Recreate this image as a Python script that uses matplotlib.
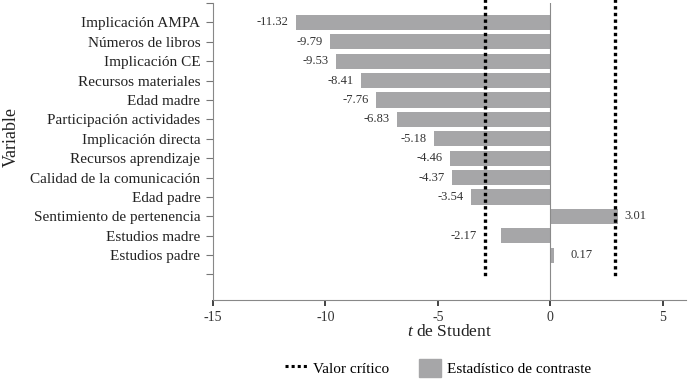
import matplotlib
matplotlib.use("Agg")
import matplotlib.pyplot as plt
import numpy as np
from matplotlib.patches import Patch
from matplotlib.lines import Line2D

categories = ["Implicación AMPA", "Números de libros", "Implicación CE", "Recursos materiales",
              "Edad madre", "Participación actividades", "Implicación directa", "Recursos aprendizaje",
              "Calidad de la comunicación", "Edad padre", "Sentimiento de pertenencia",
              "Estudios madre", "Estudios padre"]
values = [-11.32, -9.79, -9.53, -8.41, -7.76, -6.83, -5.18, -4.46, -4.37, -3.54, 3.01, -2.17, 0.17]
critical = [-2.9, 2.9]
xticks = [-15, -10, -5, 0, 5]

plt.rcParams['font.family'] = ['Liberation Serif', 'DejaVu Serif']
plt.rcParams['mathtext.fontset'] = 'custom'
plt.rcParams['mathtext.it'] = 'Liberation Serif:italic'
plt.rcParams['mathtext.rm'] = 'Liberation Serif'

fig = plt.figure(figsize=(6.89, 3.80), dpi=100)
ax = fig.add_axes([0.309, 0.21, 0.687, 0.782])

gray = '#a6a6a8'
ypos = np.arange(len(categories))
ax.barh(ypos, values, height=0.78, color=gray, zorder=2)
ax.axvline(0, color='#8a8a8a', lw=0.8, zorder=3)
for c in critical:
    ax.plot([c, c], [-1.2, 13.2], color='black', lw=2.4, linestyle=(0, (1, 1)),
            zorder=4, clip_on=False)

for y, v in zip(ypos, values):
    if v < 0:
        anchor = min(v, critical[0])
        off = -5 if v < critical[0] else -6
        ax.annotate(f"{v:.2f}", (anchor, y), xytext=(off, 0), textcoords='offset points',
                    ha='right', va='center', fontsize=9, color='#333333')
    else:
        off = 5 if v > 1 else 12
        ax.annotate(f"{v:.2f}", (v, y), xytext=(off, 0), textcoords='offset points',
                    ha='left', va='center', fontsize=9, color='#333333')

ax.set_xlim(-15, 6.05)
ax.set_ylim(14.32, -1.0)
ax.set_yticks(list(ypos) + [-0.98, 12.98])
ax.set_yticklabels(categories + ["", ""], fontsize=11, color='#222222')
ax.set_xticks(xticks)
ax.set_xticklabels([str(t) for t in xticks], fontsize=10, color='#333333')
ax.tick_params(axis='y', length=5, color='#777777', width=0.8, pad=4)
ax.tick_params(axis='x', length=4, color='#222222', width=1.2)
for s in ['top', 'right']:
    ax.spines[s].set_visible(False)
for s in ['left', 'bottom']:
    ax.spines[s].set_color('#888888')
    ax.spines[s].set_linewidth(0.8)

ax.set_xlabel("$t$ de Student", fontsize=12.5, color='#222222', labelpad=0)
ax.set_ylabel("Variable", fontsize=13, color='#222222')
ax.yaxis.set_label_coords(-0.408, 0.55)

handles = [Line2D([0], [0], color='black', lw=2.2, linestyle=(0, (1, 1))),
           Patch(color=gray)]
fig.legend(handles, ["Valor crítico", "Estadístico de contraste"], loc='center',
           bbox_to_anchor=(0.636, 0.032), ncol=2, frameon=False, fontsize=11,
           handlelength=1.4, handleheight=1.4, columnspacing=2.0, handletextpad=0.4)

fig.savefig("out.png", dpi=100)
